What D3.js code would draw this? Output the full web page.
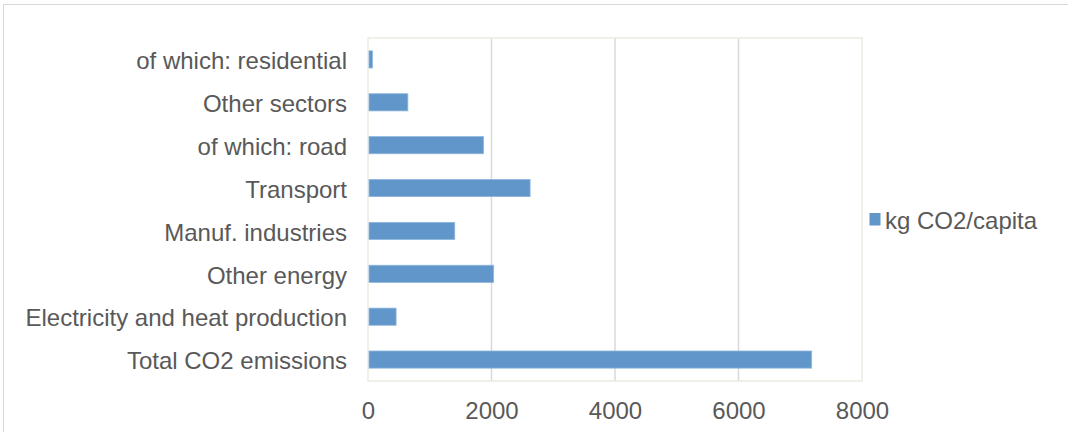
<!DOCTYPE html>
<html>
<head>
<meta charset="utf-8">
<script src="https://cdn.jsdelivr.net/npm/d3@7"></script>
<style>
  html, body { margin: 0; padding: 0; background: #fff; }
  svg { display: block; }
  text { font-family: "Liberation Sans", Arial, sans-serif; fill: #595959; }
</style>
</head>
<body>
<svg id="chart" width="1068" height="432"></svg>
<script>
// Per-capita CO2 emissions by sector (kg CO2 per person)
const categories = [
  "Total CO2 emissions",
  "Electricity and heat production",
  "Other energy",
  "Manuf. industries",
  "Transport",
  "of which: road",
  "Other sectors",
  "of which: residential"
];
const values = [7185, 455, 2035, 1405, 2625, 1870, 645, 72];
const xTicks = [0, 2000, 4000, 6000, 8000];
const seriesName = "kg CO2/capita";

const svg = d3.select("#chart");
const plot = { left: 368, right: 862, top: 38, bottom: 381 };
const fontSize = 24;

// outer chart frame
svg.append("rect")
  .attr("x", 3.5).attr("y", 4.5)
  .attr("width", 1100).attr("height", 500)
  .attr("fill", "none").attr("stroke", "#d9d9d9").attr("stroke-width", 1);

const x = d3.scaleLinear().domain([0, 8000]).range([plot.left, plot.right]);
const y = d3.scaleBand().domain(categories)
  .range([plot.bottom, plot.top])
  .paddingInner(0.6).paddingOuter(0.3);

// vertical gridlines
svg.append("g").selectAll("line")
  .data(xTicks.slice(1, -1))
  .join("line")
  .attr("x1", d => x(d)).attr("x2", d => x(d))
  .attr("y1", plot.top).attr("y2", plot.bottom)
  .attr("stroke", "#d9d9d9").attr("stroke-width", 1.5);

// plot area border
svg.append("rect")
  .attr("x", plot.left).attr("y", plot.top)
  .attr("width", plot.right - plot.left).attr("height", plot.bottom - plot.top)
  .attr("fill", "none").attr("stroke", "#ebebe1").attr("stroke-width", 1.5);

// bars
svg.append("g").selectAll("rect")
  .data(categories.map((c, i) => ({ c, v: values[i] })))
  .join("rect")
  .attr("x", x(0) + 1)
  .attr("y", d => y(d.c))
  .attr("width", d => x(d.v) - x(0) - 1)
  .attr("height", y.bandwidth())
  .attr("fill", "#6096c9")
  .attr("stroke", "#8fb6de").attr("stroke-width", 0.8);

// category axis
const yAxis = svg.append("g")
  .attr("transform", `translate(${plot.left},2)`)
  .call(d3.axisLeft(y).tickSize(0).tickPadding(21));
yAxis.select(".domain").remove();
yAxis.selectAll("text")
  .attr("font-size", fontSize)
  .attr("font-family", "Liberation Sans, Arial, sans-serif")
  .style("fill", "#595959");

// value axis
const xAxis = svg.append("g")
  .attr("transform", `translate(0,${plot.bottom})`)
  .call(d3.axisBottom(x).tickValues(xTicks).tickFormat(d3.format("d"))
    .tickSize(0).tickPadding(21));
xAxis.select(".domain").remove();
xAxis.selectAll("text")
  .attr("font-size", fontSize)
  .attr("font-family", "Liberation Sans, Arial, sans-serif")
  .style("fill", "#595959");

// legend
const legend = svg.append("g").attr("transform", "translate(869.5,213)");
legend.append("rect")
  .attr("width", 11).attr("height", 12.5)
  .attr("fill", "#6096c9");
legend.append("text")
  .attr("x", 15.5).attr("y", 8).attr("dy", "0.35em")
  .attr("font-size", fontSize)
  .text(seriesName);
</script>
</body>
</html>
